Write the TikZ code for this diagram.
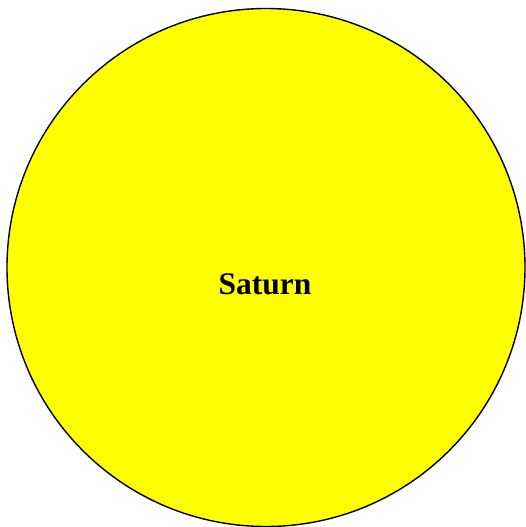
\documentclass[tikz,border=0pt]{standalone}
\usepackage{fontspec}
\setmainfont{Liberation Serif}
\definecolor{pureyellow}{RGB}{255,255,0}
\begin{document}
\begin{tikzpicture}[x=1pt,y=1pt,
  planet/.style={circle,draw=black,line width=1.4pt,fill=pureyellow,minimum size=518pt,inner sep=0pt},
  lbl/.style={font=\fontsize{31.5}{36}\selectfont\bfseries,inner sep=0pt,anchor=base}]
\useasboundingbox (0,0) rectangle (525,-527);
\node[planet] (saturn) at (266,-267.5) {};
\node[lbl] (name) at (265,-294.5) {Saturn};
\end{tikzpicture}
\end{document}
